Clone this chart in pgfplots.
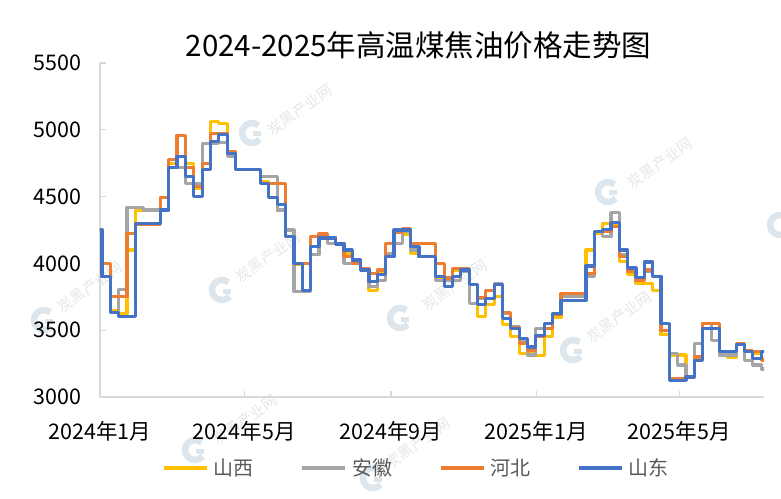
\documentclass[border=0pt]{standalone}
\usepackage{fontspec}
\setmainfont{Noto Sans CJK SC}
\usepackage{pgfplots}
\usepackage{pgfplotstable}
\pgfplotsset{compat=1.18}

\definecolor{cSX}{HTML}{FFC000}
\definecolor{cAH}{HTML}{A5A5A5}
\definecolor{cHB}{HTML}{ED7D31}
\definecolor{cSD}{HTML}{4472C4}
\definecolor{axgray}{HTML}{D9D9D9}
\definecolor{legtxt}{HTML}{595959}
\definecolor{wmtext}{HTML}{E3E7EA}
\definecolor{wmlogo}{HTML}{DCE6EC}

\newcommand\fs[1]{\fontsize{#1}{#1}\selectfont}

% weekly prices, yuan/t ; wk = week index
\pgfplotstableread{
wk sx   ah   hb   sd
0  4250 4250 4200 4250
1  4000 3900 4000 3900
2  3650 3630 3750 3630
3  3625 3805 3750 3600
4  4100 4420 4225 3600
5  4395 4420 4295 4300
6  4395 4400 4295 4300
7  4395 4400 4295 4300
8  4495 4495 4495 4400
9  4750 4720 4780 4720
10 4960 4720 4960 4800
11 4750 4600 4720 4650
12 4560 4600 4575 4500
13 4750 4900 4750 4700
14 5060 4900 4970 4910
15 5050 4905 4970 4965
16 4835 4800 4835 4825
17 4700 4700 4700 4700
18 4700 4700 4700 4700
19 4700 4700 4700 4700
20 4610 4650 4600 4600
21 4495 4650 4600 4495
22 4400 4400 4600 4440
23 4200 4250 4200 4200
24 3995 3790 4000 4000
25 3790 3790 4000 3800
26 4200 4065 4200 4125
27 4190 4200 4220 4190
28 4190 4150 4190 4190
29 4150 4150 4150 4145
30 4075 4000 4050 4100
31 4000 4000 4000 4025
32 3950 3950 3960 3950
33 3800 3825 3925 3865
34 3940 3875 3950 3915
35 4150 4075 4150 4050
36 4250 4150 4230 4250
37 4215 4240 4260 4250
38 4075 4100 4150 4125
39 4050 4050 4150 4050
40 4050 4050 4150 4050
41 3890 3875 4000 3900
42 3890 3875 3890 3825
43 3950 3875 3960 3900
44 3950 3940 3960 3950
45 3840 3700 3840 3840
46 3600 3740 3745 3690
47 3690 3740 3795 3740
48 3750 3850 3840 3840
49 3545 3625 3630 3590
50 3455 3525 3520 3515
51 3325 3415 3400 3440
52 3340 3315 3350 3375
53 3310 3515 3450 3460
54 3450 3515 3515 3550
55 3595 3625 3615 3625
56 3765 3750 3775 3725
57 3765 3750 3775 3725
58 3765 3750 3775 3725
59 4100 3900 3925 3980
60 4225 4240 4240 4240
61 4300 4200 4240 4255
62 4300 4380 4275 4305
63 4015 4065 4050 4100
64 3915 3940 3940 3965
65 3850 3875 3875 3895
66 3850 3940 3950 4010
67 3800 3900 3900 3900
68 3465 3550 3500 3550
69 3315 3325 3140 3125
70 3315 3240 3140 3125
71 3150 3150 3150 3150
72 3290 3400 3300 3275
73 3550 3550 3550 3515
74 3550 3425 3550 3515
75 3315 3315 3340 3340
76 3300 3315 3340 3340
77 3400 3390 3400 3390
78 3340 3275 3350 3340
79 3330 3240 3340 3290
80 3290 3210 3275 3340
81 3290 3210 3275 3340
}\pricedata

\begin{document}
\begin{tikzpicture}
\useasboundingbox (-100pt,-101pt) rectangle (681pt,397pt);

% watermark
\foreach \gx/\gy in {152/264, 508/205, 680/172, 122/107, 300/79, 473/47, 95/-53, 273/-81, -56/77}{
  \draw[wmlogo, line width=6.5pt] ([shift={(\gx pt,\gy pt)}]50:10pt) arc (50:320:10pt);
  \draw[wmlogo, line width=5pt] (\gx pt+1pt,\gy pt-1pt) -- (\gx pt+9pt,\gy pt-1pt);
}
\foreach \tx/\ty in {200/287, 560/234, 168/140, 355/112, 519/80, 145/-23, 318/-46, -10/110}{
  \node[rotate=35, text=wmtext, font=\fs{15}] at (\tx pt,\ty pt) {炭黑产业网};
}

\node[font=\fs{29.5}] at (318.5pt,352pt) {2024-2025年高温煤焦油价格走势图};

\begin{axis}[
  at={(0pt,0pt)}, anchor=south west,
  width=664pt, height=334pt, scale only axis,
  xmin=0.76, xmax=80.34, ymin=3000, ymax=5500,
  axis x line=bottom, axis y line=left,
  axis line style={draw=axgray, line width=1.3pt, -},
  tick align=inside, major tick length=6pt,
  tick style={draw=axgray, line width=1.3pt},
  xtick={0.76,18.05,35.62,53.05,70.19},
  xticklabels={2024年1月,2024年5月,2024年9月,2025年1月,2025年5月},
  ytick={3000,3500,4000,4500,5000,5500},
  /pgf/number format/assume math mode=true,
  /pgf/number format/1000 sep={},
  xticklabel style={font=\fs{21.5}, yshift=-21pt},
  yticklabel style={font=\fs{21.5}, xshift=-15pt},
  legend columns=4,
  legend style={at={(0.476,-0.2126)}, anchor=center, draw=none, fill=none,
    font=\fs{20}, text=legtxt, nodes={inner sep=1pt},
    /tikz/every odd column/.append style={column sep=4pt},
    /tikz/every even column/.append style={column sep=46pt}},
  legend image code/.code={\draw[#1] (0pt,0pt) -- (43pt,0pt);},
  every axis plot/.append style={const plot, line width=3.2pt, line join=round, no marks},
]
\addplot[cSX] table[x=wk, y=sx] {\pricedata};
\addlegendentry{山西}
\addplot[cAH] table[x=wk, y=ah] {\pricedata};
\addlegendentry{安徽}
\addplot[cHB] table[x=wk, y=hb] {\pricedata};
\addlegendentry{河北}
\addplot[cSD] table[x=wk, y=sd] {\pricedata};
\addlegendentry{山东}
\end{axis}
\end{tikzpicture}
\end{document}
